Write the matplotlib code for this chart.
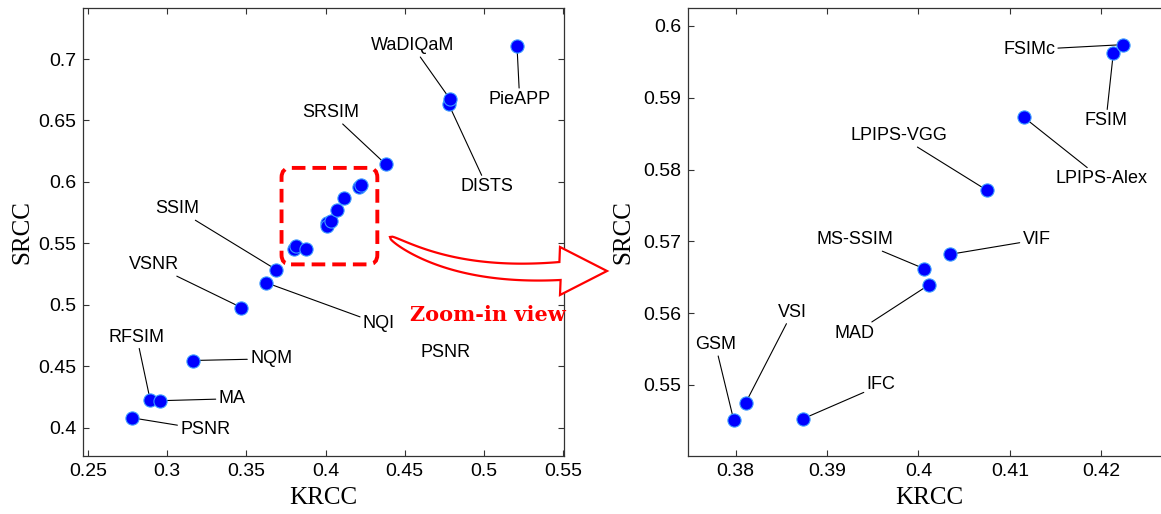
import numpy as np
import matplotlib
matplotlib.use("Agg")
import matplotlib.pyplot as plt
from matplotlib.patches import FancyBboxPatch, Polygon
from matplotlib.ticker import FuncFormatter

plt.rcParams['font.family'] = ['Liberation Sans', 'DejaVu Sans']

# IQA models: (KRCC, SRCC)
models = ["PSNR", "RFSIM", "MA", "NQM", "VSNR", "NQI", "SSIM",
          "GSM", "VSI", "IFC", "MS-SSIM", "MAD", "VIF",
          "LPIPS-VGG", "LPIPS-Alex", "FSIM", "FSIMc",
          "SRSIM", "DISTS", "WaDIQaM", "PieAPP"]
krcc = [0.2780, 0.2892, 0.2956, 0.3160, 0.3468, 0.3625, 0.3690,
        0.3798, 0.3811, 0.3874, 0.4006, 0.4011, 0.4035,
        0.4075, 0.4115, 0.4213, 0.4224,
        0.4380, 0.4777, 0.4787, 0.5209]
srcc = [0.4080, 0.4228, 0.4220, 0.4547, 0.4978, 0.5180, 0.5285,
        0.5451, 0.5475, 0.5453, 0.5662, 0.5639, 0.5682,
        0.5771, 0.5873, 0.5962, 0.5974,
        0.6144, 0.6634, 0.6672, 0.7108]

left_xticks = [0.25, 0.3, 0.35, 0.4, 0.45, 0.5, 0.55]
left_yticks = [0.4, 0.45, 0.5, 0.55, 0.6, 0.65, 0.7]
right_xticks = [0.38, 0.39, 0.4, 0.41, 0.42]
right_yticks = [0.55, 0.56, 0.57, 0.58, 0.59, 0.6]

# where the labels sit (data coords)
left_labels = {"PSNR": (0.324, 0.3984), "RFSIM": (0.2808, 0.4737),
               "MA": (0.3409, 0.4236), "NQM": (0.3656, 0.4561),
               "VSNR": (0.2914, 0.5325), "NQI": (0.4337, 0.4846),
               "SSIM": (0.3061, 0.5780), "SRSIM": (0.4032, 0.6563),
               "WaDIQaM": (0.4548, 0.7108), "DISTS": (0.5019, 0.5962),
               "PieAPP": (0.5226, 0.6672)}
right_labels = {"GSM": (0.3778, 0.5556), "VSI": (0.3862, 0.5601),
                "IFC": (0.3959, 0.5500), "MS-SSIM": (0.3931, 0.5702),
                "MAD": (0.3930, 0.5572), "VIF": (0.4129, 0.5702),
                "LPIPS-VGG": (0.3979, 0.5847), "LPIPS-Alex": (0.4200, 0.5787),
                "FSIM": (0.4205, 0.5868), "FSIMc": (0.4121, 0.5967)}

W, H = 1161, 514
fig = plt.figure(figsize=(W / 100, H / 100), dpi=100)
ax1 = fig.add_axes([83 / W, 58 / H, 481 / W, 448 / H])
ax2 = fig.add_axes([688 / W, 58 / H, 482 / W, 448 / H])

fmt = FuncFormatter(lambda v, p: f"{v:g}")


def draw_panel(ax, labels, xticks, yticks, xlim, ylim, ylabelpad):
    ax.scatter(krcc, srcc, s=90, c='#0000ff', edgecolors='#3a9bff',
               linewidths=0.8, zorder=4)
    for name, (tx, ty) in labels.items():
        i = models.index(name)
        ax.annotate(name, (krcc[i], srcc[i]), xytext=(tx, ty),
                    ha='center', va='center', fontsize=13,
                    arrowprops=dict(arrowstyle='-', lw=0.8, color='k',
                                    shrinkA=0, shrinkB=0))
    ax.set_xlim(*xlim)
    ax.set_ylim(*ylim)
    ax.set_xticks(xticks)
    ax.set_yticks(yticks)
    ax.xaxis.set_major_formatter(fmt)
    ax.yaxis.set_major_formatter(fmt)
    ax.tick_params(direction='in', top=True, right=True, length=4,
                   width=0.8, labelsize=14, pad=5, color='#333333')
    for s in ax.spines.values():
        s.set_linewidth(0.9)
        s.set_color('#333333')
    ax.set_xlabel("KRCC", family='Liberation Serif', fontsize=18, labelpad=5)
    ax.set_ylabel("SRCC", family='Liberation Serif', fontsize=18,
                  labelpad=ylabelpad)


draw_panel(ax1, left_labels, left_xticks, left_yticks,
           (0.2468, 0.5506), (0.377, 0.7415), 3)
draw_panel(ax2, right_labels, right_xticks, right_yticks,
           (0.3748, 0.4275), (0.5401, 0.6025), 6)

# stray label in the original figure
ax1.text(0.4759, 0.4612, "PSNR", ha='center', va='center', fontsize=13)

# dashed zoom region
box = FancyBboxPatch((0.3722, 0.5329), 0.4327 - 0.3722, 0.6114 - 0.5329,
                     boxstyle="round,pad=0,rounding_size=0.006",
                     mutation_aspect=1.28, fill=False, edgecolor='red',
                     lw=2.8, ls=(0, (3.5, 1.8)), zorder=5)
ax1.add_patch(box)

# curved hollow arrow towards the zoomed panel (built in pixel space)
t = np.linspace(0, 1, 80)[:, None]
p0, p1, p2 = np.array([390, 237]), np.array([455, 278]), np.array([560, 271])
mid = (1 - t) ** 2 * p0 + 2 * (1 - t) * t * p1 + t ** 2 * p2
d = 2 * (1 - t) * (p1 - p0) + 2 * t * (p2 - p1)
nrm = np.hstack([-d[:, 1:2], d[:, 0:1]]) / np.linalg.norm(d, axis=1)[:, None]
hw = 9 * t ** 0.4
upper = mid - nrm * hw
lower = mid + nrm * hw
head = np.array([[560, 247], [607, 271], [560, 295]])
outline = np.vstack([upper, head, lower[::-1]])
outline = np.column_stack([outline[:, 0] / W, 1 - outline[:, 1] / H])
fig.add_artist(Polygon(outline, closed=True, transform=fig.transFigure,
                       facecolor='white', edgecolor='red', lw=1.6,
                       joinstyle='miter', zorder=6))
fig.text(488 / W, 1 - 315 / H, "Zoom-in view", color='red',
         family='DejaVu Serif', weight='bold', fontsize=15,
         ha='center', va='center', zorder=7)

fig.savefig("out.png", dpi=100)
